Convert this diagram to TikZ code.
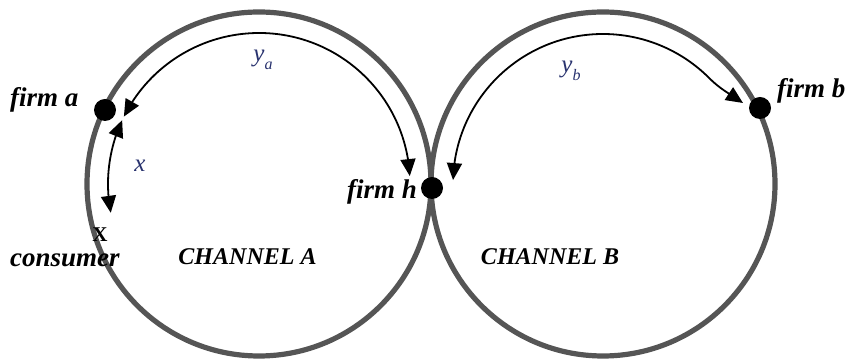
\documentclass[tikz,border=0pt]{standalone}
\usepackage{fontspec}
\setmainfont{Liberation Serif}
\usetikzlibrary{arrows.meta,bending,calc}
\definecolor{ringgray}{RGB}{85,85,85}
\definecolor{lbl}{RGB}{40,50,110}
\newcommand{\subvar}[2]{#1\raisebox{-0.3em}{\fontsize{16}{18}\selectfont #2}}
\begin{document}
\begin{tikzpicture}[x=1pt,y=1pt,
  ring/.style={circle,draw=ringgray,line width=5.2pt,minimum size=344pt,inner sep=0pt},
  flow/.style={line width=1.8pt,{Triangle[length=17pt,width=15pt]}-{Triangle[length=17pt,width=15pt]}},
  firmdot/.style={circle,fill=black,inner sep=0pt,minimum size=22pt},
  firmlbl/.style={font=\fontsize{27}{30}\selectfont\bfseries\itshape,inner sep=0pt},
  chan/.style={font=\fontsize{24}{28}\selectfont\bfseries\itshape,inner sep=0pt},
  var/.style={font=\fontsize{25}{28}\selectfont\itshape,text=lbl,inner sep=0pt}]
\useasboundingbox (0,0) rectangle (854,363);
% channels
\node[ring] (chA) at (259,179) {};
\node[ring] (chB) at (603,179) {};
% arrow end points
\coordinate (yaH) at ($(chA.center)+(3:151)$);
\coordinate (xT) at ($(chA.center)+(155:151)$);
\coordinate (ybH) at ($(chB.center)+(178.5:150)$);
\coordinate (ybB) at (743,260);
% flows
\draw[flow] (yaH) arc[start angle=3,end angle=153.5,radius=151];
\draw[flow] (xT) arc[start angle=155,end angle=191,radius=151];
\draw[flow] (ybH) arc[start angle=178.5,end angle=45,radius=150] to[out=-45,in=145] (ybB);
% firms
\node[firmdot] (fa) at (105,253) {};
\node[firmdot] (fh) at (432,175) {};
\node[firmdot] (fb) at (760,255) {};
% labels
\node[firmlbl,anchor=base west] (la) at (10,256) {firm a};
\node[firmlbl,anchor=base east] (lh) at (417,164) {firm h};
\node[firmlbl,anchor=base west] (lb) at (777,265) {firm b};
\node[font=\fontsize{21}{24}\selectfont\bfseries,anchor=base,inner sep=0pt] (cx) at (100,121) {X};
\node[firmlbl,anchor=base west] (cons) at (10,96) {consumer};
\node[chan,anchor=base] (ca) at (247.5,98) {CHANNEL A};
\node[chan,anchor=base] (cb) at (550,98) {CHANNEL B};
\node[var] (vx) at (140,197) {x};
\node[var] (vya) at (263,303) {\subvar{y}{a}};
\node[var] (vyb) at (571,292) {\subvar{y}{b}};
\end{tikzpicture}
\end{document}
